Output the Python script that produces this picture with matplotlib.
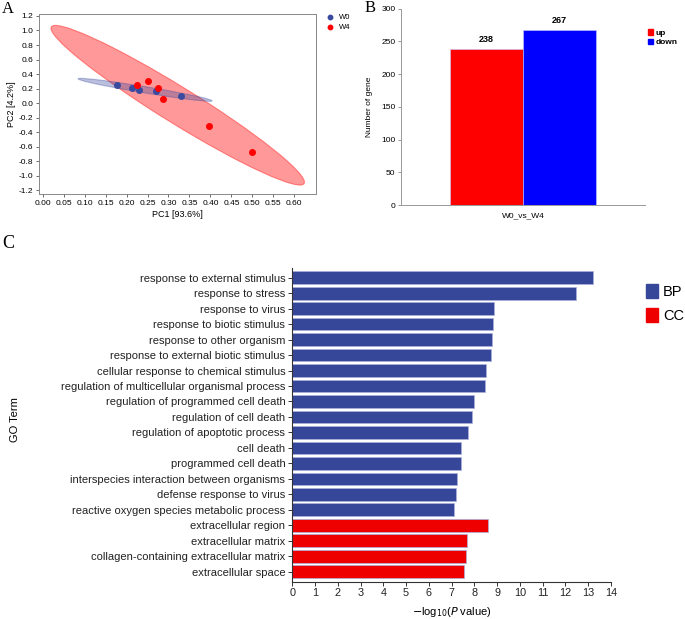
import matplotlib
matplotlib.use('Agg')
import matplotlib.pyplot as plt
from matplotlib.patches import Ellipse, Patch
import numpy as np

plt.rcParams['font.family'] = ['Liberation Sans', 'DejaVu Sans']

# Panel A: PCA scores
w0_pc1 = [0.178, 0.212, 0.230, 0.270, 0.331]
w0_pc2 = [0.254, 0.213, 0.185, 0.167, 0.098]
w4_pc1 = [0.225, 0.252, 0.274, 0.287, 0.396, 0.498]
w4_pc2 = [0.250, 0.305, 0.208, 0.052, -0.315, -0.673]

# Panel B: DEG counts
deg_labels = ['up', 'down']
deg_counts = [238, 267]
comparison = 'W0_vs_W4'

# Panel C: GO enrichment
go_terms = [
    'response to external stimulus', 'response to stress', 'response to virus',
    'response to biotic stimulus', 'response to other organism',
    'response to external biotic stimulus', 'cellular response to chemical stimulus',
    'regulation of multicellular organismal process', 'regulation of programmed cell death',
    'regulation of cell death', 'regulation of apoptotic process', 'cell death',
    'programmed cell death', 'interspecies interaction between organisms',
    'defense response to virus', 'reactive oxygen species metabolic process',
    'extracellular region', 'extracellular matrix',
    'collagen-containing extracellular matrix', 'extracellular space',
]
go_logp = [13.19, 12.45, 8.84, 8.81, 8.77, 8.71, 8.49, 8.45, 7.99, 7.91,
           7.70, 7.41, 7.41, 7.23, 7.20, 7.10, 8.61, 7.69, 7.61, 7.55]
go_class = ['BP'] * 16 + ['CC'] * 4

BLUE_A = '#3a4a9e'
BLUE_C = '#36479a'
RED = '#ff0000'


def conf_ellipse(ax, x, y, k, widen, color, alpha):
    # covariance ellipse; minor axis widened a bit like the original software does
    x = np.asarray(x); y = np.asarray(y)
    cov = np.cov(x, y)
    vals, vecs = np.linalg.eigh(cov)
    order = vals.argsort()[::-1]
    vals, vecs = vals[order], vecs[:, order]
    ang = np.degrees(np.arctan2(vecs[1, 0], vecs[0, 0]))
    e = Ellipse((x.mean(), y.mean()), 2 * k * np.sqrt(vals[0]), 2 * k * widen * np.sqrt(vals[1]),
                angle=ang, facecolor=color, edgecolor=color, alpha=alpha, lw=0.8)
    ax.add_patch(e)


fig = plt.figure(figsize=(6.85, 6.19), dpi=100)

# ---------- A ----------
axA = fig.add_axes([0.0569, 0.6861, 0.404, 0.2908])
conf_ellipse(axA, w4_pc1, w4_pc2, 2.84, 1.75, RED, 0.4)
conf_ellipse(axA, w0_pc1, w0_pc2, 2.7, 2.0, BLUE_A, 0.35)
axA.scatter(w0_pc1, w0_pc2, s=16, color=BLUE_A, zorder=3, label='W0')
axA.scatter(w4_pc1, w4_pc2, s=16, color=RED, zorder=3, label='W4')
axA.set_xlim(-0.0088, 0.651)
axA.set_ylim(-1.255, 1.223)
xt = np.arange(0, 0.601, 0.05)
yt = np.arange(-1.2, 1.201, 0.2)
axA.set_xticks(xt)
axA.set_yticks(yt)
axA.set_xticklabels([f'{v:.2f}' for v in xt])
axA.set_yticklabels([f'{v:.1f}' if abs(v) > 1e-9 else '0.0' for v in yt])
axA.tick_params(labelsize=6, length=2.5, width=0.6, color='#555555', pad=1.5)
for s in axA.spines.values():
    s.set_color('#888888'); s.set_linewidth(0.7)
axA.set_xlabel('PC1 [93.6%]', fontsize=6.5, labelpad=2)
axA.set_ylabel('PC2 [4.2%]', fontsize=6.5, labelpad=2)
axA.legend(loc='upper left', bbox_to_anchor=(1.0, 1.04), fontsize=5.5, frameon=False,
           handletextpad=0.2, markerscale=0.8, labelspacing=0.3)
fig.text(0.003, 0.985, 'A', fontsize=12, family='Liberation Serif', va='center')

# ---------- B ----------
axB = fig.add_axes([0.5854, 0.6688, 0.3562, 0.3171])
bx = [-0.5, 0.5]
bcols = [RED, '#0000ff']
axB.bar(bx, deg_counts, width=1.0, color=bcols, edgecolor='#c8c8ff', linewidth=0.4)
for xi, v in zip(bx, deg_counts):
    axB.text(xi, v + 8, str(v), ha='center', va='bottom', fontsize=6.5, fontweight='bold')
axB.set_xlim(-1.68, 1.68)
axB.set_ylim(0, 300)
axB.set_yticks(np.arange(0, 301, 50))
axB.set_xticks([0])
axB.set_xticklabels([comparison])
axB.tick_params(axis='y', labelsize=6, length=2.5, width=0.6, color='#888888', pad=1.5)
axB.tick_params(axis='x', labelsize=6, length=0, pad=5)
for s in ['top', 'right']:
    axB.spines[s].set_visible(False)
for s in ['left', 'bottom']:
    axB.spines[s].set_color('#999999'); axB.spines[s].set_linewidth(0.7)
axB.set_ylabel('Number of gene', fontsize=6, labelpad=6)
handlesB = [Patch(color=c, label=l) for c, l in zip(bcols, deg_labels)]
legB = axB.legend(handles=handlesB, loc='upper left', bbox_to_anchor=(0.99, 0.92), frameon=False,
                  fontsize=6, handlelength=0.6, handleheight=0.6, handletextpad=0.4,
                  labelspacing=0.2, borderaxespad=0.2)
for t in legB.get_texts():
    t.set_fontweight('bold')
fig.text(0.532, 0.987, 'B', fontsize=12, family='Liberation Serif', va='center')

# ---------- C ----------
axC = fig.add_axes([0.4267, 0.0603, 0.4653, 0.5072])
ypos = np.arange(len(go_terms))
ccols = [BLUE_C if c == 'BP' else '#ee0000' for c in go_class]
axC.barh(ypos, go_logp, height=0.82, color=ccols, edgecolor='#aab2dd', linewidth=0.5)
axC.set_ylim(len(go_terms) - 1 + 0.646, -0.646)
axC.set_xlim(0, 14)
axC.set_xticks(range(0, 15))
axC.set_yticks(ypos)
axC.set_yticklabels(go_terms)
axC.tick_params(axis='y', labelsize=8, length=3, width=0.7, color='#333333', pad=2, labelcolor='#222222')
axC.tick_params(axis='x', labelsize=7.8, length=3, width=0.7, color='#333333', pad=1.5, labelcolor='#222222')
for s in ['top', 'right']:
    axC.spines[s].set_visible(False)
for s in ['left', 'bottom']:
    axC.spines[s].set_color('#333333'); axC.spines[s].set_linewidth(0.8)
axC.set_xlabel(r'$-$log$_{10}$($P$ value)', fontsize=8, labelpad=5)
fig.text(0.022, 0.322, 'GO Term', rotation=90, fontsize=8, ha='center', va='center')
handlesC = [Patch(color=BLUE_C, label='BP'), Patch(color='#ee0000', label='CC')]
axC.legend(handles=handlesC, loc='upper left', bbox_to_anchor=(1.07, 0.99), frameon=False,
           fontsize=10.5, handlelength=0.8, handleheight=1.1, handletextpad=0.35, labelspacing=0.6)
fig.text(0.003, 0.607, 'C', fontsize=13, family='Liberation Serif', va='center')

fig.savefig('out.png', dpi=100)
